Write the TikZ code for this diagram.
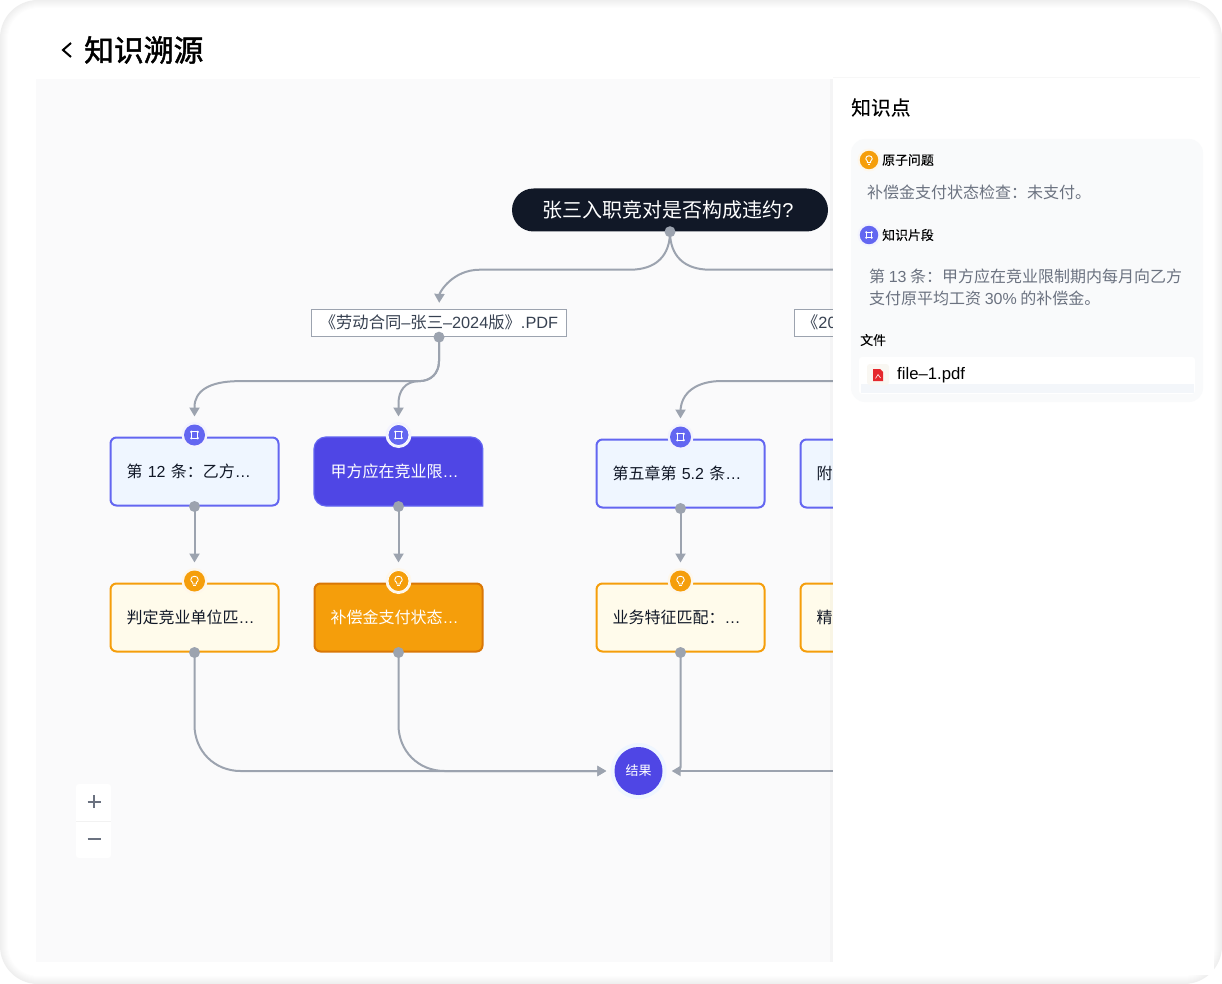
\documentclass[tikz,border=0pt]{standalone}
\usepackage{fontspec}
\setmainfont{Noto Sans CJK SC}
\newfontfamily\lat{Liberation Sans}
\newfontfamily\medf[FakeBold=1.6]{Noto Sans CJK SC}
\newfontfamily\medl[FakeBold=0.2]{Noto Sans CJK SC}
\usetikzlibrary{arrows.meta}
\newcommand{\la}[1]{{\lat #1}}
\newcommand{\fs}[1]{\fontsize{#1}{#1}\selectfont}
\definecolor{ink}{HTML}{111827}
\definecolor{line}{HTML}{9CA3AF}
\definecolor{indigoA}{HTML}{6366F1}
\definecolor{indigoB}{HTML}{4F46E5}
\definecolor{indigoL}{HTML}{EFF6FF}
\definecolor{amberA}{HTML}{F59E0B}
\definecolor{amberD}{HTML}{D97706}
\definecolor{amberL}{HTML}{FFFBEB}
\definecolor{muted}{HTML}{6B7280}
\definecolor{doctext}{HTML}{374151}
\definecolor{canvasbg}{HTML}{FAFAFB}
\definecolor{panelcard}{HTML}{F9FAFB}
\definecolor{filestrip}{HTML}{F3F6FA}
\definecolor{filebg}{HTML}{F9F7F2}
\definecolor{filered}{HTML}{E5282D}
\tikzset{
  cardbase/.style={rectangle,rounded corners=6,line width=2,minimum height=68,text width=136,inner xsep=16,inner ysep=0,align=left,font=\fs{16},text=ink},
  cardi/.style={cardbase,draw=indigoA,fill=indigoL},
  carda/.style={cardbase,draw=amberA,fill=amberL},
  cardsel/.style={cardbase,text=white},
  cardoa/.style={cardbase,draw=amberD,fill=amberA,text=white},
  docbox/.style={rectangle,draw=line,line width=.8,fill=white,minimum width=255.5,minimum height=27.5,inner sep=0,font=\fs{16.3},text=doctext},
  conn/.style={draw=line,line width=2,-{Triangle[width=10,length=9]},line cap=round},
  plain/.style={draw=line,line width=2,line cap=round},
  dotn/.style={circle,fill=line,minimum size=11,inner sep=0},
  icont/.style={circle,minimum size=21,inner sep=0},
  txt/.style={anchor=west,inner sep=0},
}
% #1 name, #2 position, #3 size scale, #4 extra ring
\newcommand{\frameicon}[4]{%
  \fill[indigoA!8] #2 circle ({#3*13});
  \node[icont,fill=indigoA,minimum size=#3*21,#4] (#1) at #2 {};
  \begin{scope}[shift={(#1.center)},scale=#3]
    \draw[white,line width=.8] (-3.2,-3.2) rectangle (3.2,3.2);
    \foreach \a/\b in {-3.2/-3.2,3.2/-3.2,-3.2/3.2,3.2/3.2} \fill[white] (\a,\b) circle (1.25);
  \end{scope}}
\newcommand{\bulbicon}[4]{%
  \fill[amberA!8] #2 circle ({#3*13});
  \node[icont,fill=amberA,minimum size=#3*21,#4] (#1) at #2 {};
  \begin{scope}[shift={(#1.center)},scale=#3]
    \draw[white,line width=.9,line join=round] (-1.8,3) -- (-1.8,1.5) .. controls (-3,.8) and (-3.7,-.3) .. (-3.7,-1.3) .. controls (-3.7,-3.5) and (-2,-4.8) .. (0,-4.8) .. controls (2,-4.8) and (3.7,-3.5) .. (3.7,-1.3) .. controls (3.7,-.3) and (3,.8) .. (1.8,1.5) -- (1.8,3) -- cycle;
    \draw[white,line width=.9] (-1.3,4.7) -- (1.3,4.7);
  \end{scope}}
\begin{document}
\begin{tikzpicture}[x=1pt,y=-1pt]
\useasboundingbox (0,0) rectangle (1222,984);
% window frame
\fill[white] (0,0) rectangle (1222,984);
\foreach \i in {0,...,8}{
  \pgfmathsetmacro\p{(8-\i)*0.8}
  \fill[black!\p!white,rounded corners=38-\i] (\i,\i) rectangle (1222-\i,984-\i);
}
\fill[white,rounded corners=30] (8,8) rectangle (1214,976);
% canvas
\fill[canvasbg] (36,79) rectangle (840,962);
% title
\node[txt,font=\fs{29.8}\medf,text=black] (title) at (84,50) {知识溯源};
\coordinate (chev) at (67,50);
\draw[black,line width=2,line join=miter] ([shift={(4,-7)}]chev) -- ([shift={(-4,0)}]chev) -- ([shift={(4,7)}]chev);
% graph nodes
\node[rectangle,rounded corners=21.5,fill=ink,minimum width=316,minimum height=43,inner sep=0,text=white,font=\fs{20}] (root) at (670,210) {\raisebox{2.5pt}{张三入职竞对是否构成违约\la{?}}\kern4pt};
\node[docbox] (doc1) at (439,323) {\raisebox{2pt}{《劳动合同\la{–}张三\la{–}\la{2024}版》\la{.PDF}}};
\node[docbox,anchor=west,text width=240,inner xsep=7.5,align=left] (doc2) at (794,323) {\raisebox{2pt}{《\la{20}}};
\node[cardi] (c1) at (194.5,471.5) {第 \la{12} 条：乙方\la{…}};
\fill[indigoB,draw=indigoA,line width=1.2,rounded corners=12] (482.8,471.5) -- (482.8,437) -- (314,437) -- (314,506) [sharp corners] -- (482.8,506) -- cycle;
\node[cardsel] (c2) at (398.5,471.5) {甲方应在竞业限\la{…}};
\node[cardi] (c3) at (680.5,473.5) {第五章第 \la{5.2} 条\la{…}};
\node[cardi,anchor=west] (c4) at (799.5,473.5) {附};
\node[carda] (a1) at (194.5,617.5) {判定竞业单位匹\la{…}};
\node[cardoa] (a2) at (398.5,617.5) {补偿金支付状态\la{…}};
\node[carda] (a3) at (680.5,617.5) {业务特征匹配：\la{…}};
\node[carda,anchor=west] (a4) at (799.5,617.5) {精};
% result
\fill[indigoL] (638.5,771) circle (28);
\node[circle,fill=indigoB,minimum size=48,inner sep=0,text=white,font=\fs{13}] (res) at (638.5,771) {\raisebox{-1.6pt}{结果}};
% free ends
\coordinate (freeA) at ([shift={(170,38)}]root.south);
\coordinate (freeB) at (840,381);
\coordinate (freeC) at (840,771);
% connectors
\draw[conn,shorten >=6] (root.south) .. controls +(0,24) and +(26,0) .. ++(-40,38) -- ++(-150,0) .. controls +(-28,0) and +(0.5,-16) .. (doc1.north);
\draw[plain] (root.south) .. controls +(0,24) and +(-26,0) .. ++(40,38) -- (freeA);
\draw[conn,shorten >=20] (doc1.south) -- ++(0,24) .. controls +(0,12) and +(12,0) .. ++(-20,20) -- ++(-180,0) .. controls +(-30,0) and +(0,-16) .. ++(-44.5,26) -- (c1.north);
\draw[conn,shorten >=20] (doc1.south) -- ++(0,24) .. controls +(0,12) and +(12,0) .. ++(-20,20) .. controls +(-14,0) and +(0,-12) .. ++(-20.5,22) -- (c2.north);
\draw[conn,shorten >=20] (freeB) -- ++(-118,0) .. controls +(-26,0) and +(0.5,-18) .. ++(-41.5,30) -- (c3.north);
\draw[conn,shorten >=20] (c1.south) -- (a1.north);
\draw[conn,shorten >=20] (c2.south) -- (a2.north);
\draw[conn,shorten >=20] (c3.south) -- (a3.north);
\draw[conn,shorten >=8] (a1.south) -- ++(0,72.5) .. controls +(0,26) and +(-26,0) .. ++(46,46) -- (res.west);
\draw[conn,shorten >=8] (a2.south) -- ++(0,72.5) .. controls +(0,26) and +(-26,0) .. ++(46,46) -- (res.west);
\draw[conn,shorten >=9] (freeC) -- (res.east);
\draw[plain] (a3.south) -- ++(0,115) -- ++(-1,3);
% dots
\node[dotn] (dr) at (root.south) {};
\node[dotn] (dd) at (doc1.south) {};
\foreach \n in {c1,c2,c3,a1,a2,a3} \node[dotn] (d\n) at (\n.south) {};
% icons
\frameicon{ic1}{(194.5,435)}{1}{}
\frameicon{ic2}{(398.5,435)}{1}{draw=white,line width=.8}
\frameicon{ic3}{(680.5,437)}{1}{}
\bulbicon{ia1}{(194.5,581)}{1}{}
\bulbicon{ia2}{(398.5,581)}{1}{draw=white,line width=.8}
\bulbicon{ia3}{(680.5,581)}{1}{}
% zoom control
\fill[white,rounded corners=3] (76,784) rectangle (111,858);
\draw[black!5,line width=.8] (76,821) -- (111,821);
\coordinate (zp) at (94,801.5);
\coordinate (zm) at (94,839);
\draw[muted,line width=2] ([xshift=-6.5]zp) -- ([xshift=6.5]zp) ([yshift=-6.5]zp) -- ([yshift=6.5]zp);
\draw[muted,line width=2] ([xshift=-6.5]zm) -- ([xshift=6.5]zm);
% right panel
\fill[black,opacity=.025] (830,79) rectangle (833,962);
\fill[white] (833,72) rectangle (1214,975);
\draw[black!3,line width=.8] (833,77.5) -- (1200,77.5);
\node[txt,font=\fs{19.8}\medl,text=black] (ptitle) at (851,107.5) {知识点};
\fill[panelcard,rounded corners=14] (851,139) rectangle (1203,402);
\bulbicon{pi1}{(869,160)}{.88}{}
\node[txt,font=\fs{12.9}\medl,text=black] (pl1) at (882,160) {原子问题};
\node[txt,font=\fs{16},text=muted] (pt1) at (867,192.5) {补偿金支付状态检查：未支付。};
\frameicon{pi2}{(869,235)}{.88}{}
\node[txt,font=\fs{12.9}\medl,text=black] (pl2) at (882,235) {知识片段};
\node[txt,font=\fs{16},text=muted,align=left] (pt2) at (869,287) {第 \la{13} 条：甲方应在竞业限制期内每月向乙方\\[6.2pt]支付原平均工资 \la{30\%} 的补偿金。};
\node[txt,font=\fs{12.9}\medl,text=black] (pl3) at (860,340) {文件};
\fill[white,rounded corners=3] (859,357) rectangle (1195,394);
\fill[filestrip] (861,384) rectangle (1194,393);
\fill[filebg,rounded corners=3] (867,364) rectangle (889,385);
\fill[filered] (873,369) -- (880,369) -- (883,372) -- (883,381) -- (873,381) -- cycle;
\draw[white,line width=.6] (875.5,378.5) -- (878,374.5) -- (880.5,378);
\node[txt,font={\fs{16.7}\lat},text=black] (fname) at (897,375) {file–1.pdf};
\end{tikzpicture}
\end{document}
